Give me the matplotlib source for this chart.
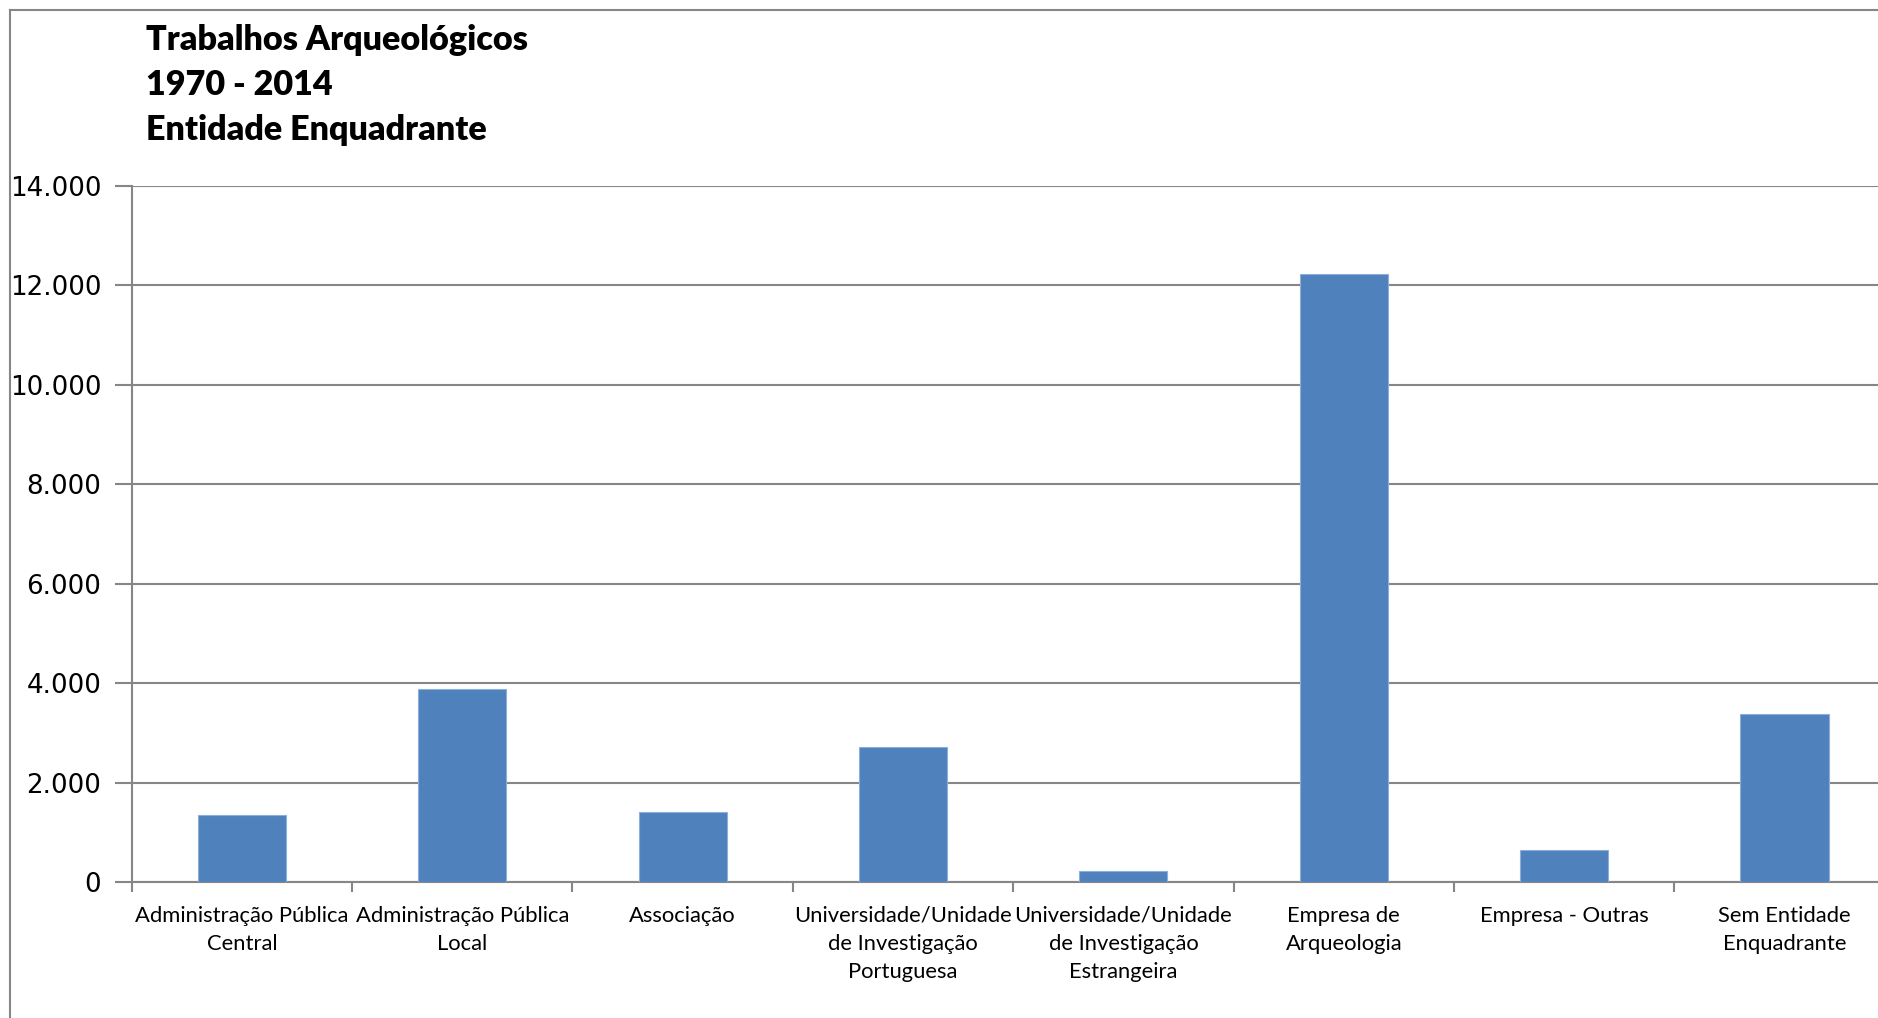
import matplotlib
matplotlib.use('Agg')
import matplotlib.pyplot as plt
from matplotlib.lines import Line2D
from matplotlib.ticker import FuncFormatter, MultipleLocator
import numpy as np

# dados
categorias = ['Administração Pública\nCentral', 'Administração Pública\nLocal', 'Associação',
              'Universidade/Unidade\nde Investigação\nPortuguesa',
              'Universidade/Unidade\nde Investigação\nEstrangeira',
              'Empresa de\nArqueologia', 'Empresa - Outras', 'Sem Entidade\nEnquadrante']
trabalhos = [1360, 3890, 1420, 2720, 230, 12230, 640, 3390]
titulo = ['Trabalhos Arqueológicos', '1970 - 2014', 'Entidade Enquadrante']

W, H = 1878, 1018
fig = plt.figure(figsize=(W / 100, H / 100), dpi=100)
# o eixo passa um pouco para la da margem direita, como no original
ax = fig.add_axes([131.7 / W, 1 - 882.3 / H, 1763 / W, (882.3 - 185.6) / H])

cinza = '#868686'
x = np.arange(len(categorias))
ax.bar(x, trabalhos, width=0.4, color='#4F81BD', edgecolor='#8DB0DA', linewidth=0.8, zorder=3)

ax.set_xlim(-0.5, len(categorias) - 0.5)
ax.set_ylim(0, 14000)
ax.yaxis.set_major_locator(MultipleLocator(2000))
ax.yaxis.set_major_formatter(FuncFormatter(lambda v, p: f'{int(v):,}'.replace(',', '.')))
ax.grid(axis='y', color=cinza, linewidth=1.5, zorder=0)

for s in ['top', 'right']:
    ax.spines[s].set_visible(False)
for s in ['left', 'bottom']:
    ax.spines[s].set_color(cinza)
    ax.spines[s].set_linewidth(1.5)

ax.set_xticks(x)
ax.set_xticklabels(categorias, fontfamily='Lato', fontsize=15.8, linespacing=1.5)
ax.set_xticks(np.arange(-0.5, len(categorias), 1), minor=True)
ax.tick_params(axis='x', which='major', length=0, pad=17)
ax.tick_params(axis='x', which='minor', length=7, width=1.5, color=cinza)
ax.tick_params(axis='y', length=12, width=1.5, color=cinza, labelsize=18.8, pad=10)
for t in ax.get_yticklabels():
    t.set_fontfamily('DejaVu Sans')

# titulo em tres linhas
for i, linha in enumerate(titulo):
    fig.text(146 / W, 1 - (39.5 + 45.5 * i) / H, linha, fontfamily='Lato', fontweight='heavy',
             fontsize=24.6, va='center', ha='left')

# moldura do grafico
fig.add_artist(Line2D([9.6 / W, 9.6 / W], [0, 1 - 10 / H], color=cinza, linewidth=1.5))
fig.add_artist(Line2D([9.6 / W, 1], [1 - 10 / H, 1 - 10 / H], color=cinza, linewidth=1.5))

fig.savefig('out.png', dpi=100, facecolor='white')
